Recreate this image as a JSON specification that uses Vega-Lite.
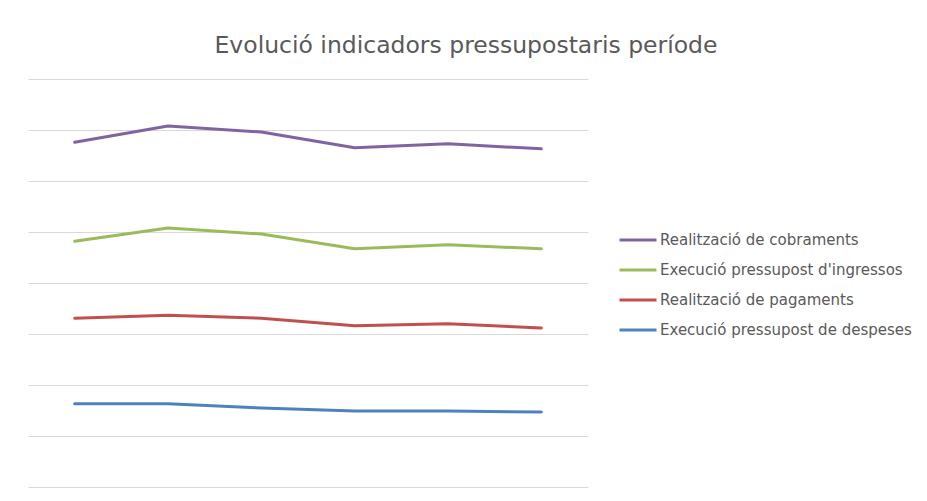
{
  "$schema": "https://vega.github.io/schema/vega-lite/v6.json",
  "autosize": "none",
  "width": 560,
  "height": 408,
  "padding": {"left": 28, "top": 79, "right": 339, "bottom": 14},
  "background": "white",
  "config": {"view": {"stroke": null}, "font": "DejaVu Sans"},
  "title": {
    "text": "Evolució indicadors pressupostaris període",
    "fontSize": 23.5,
    "fontWeight": "normal",
    "color": "#595959",
    "font": "DejaVu Sans",
    "anchor": "middle",
    "dx": 158,
    "offset": 22
  },
  "data": {
    "values": [
      {"periode": "1", "indicador": "Realització de cobraments", "valor": 6.76},
      {"periode": "2", "indicador": "Realització de cobraments", "valor": 7.08},
      {"periode": "3", "indicador": "Realització de cobraments", "valor": 6.96},
      {"periode": "4", "indicador": "Realització de cobraments", "valor": 6.65},
      {"periode": "5", "indicador": "Realització de cobraments", "valor": 6.73},
      {"periode": "6", "indicador": "Realització de cobraments", "valor": 6.63},
      {"periode": "1", "indicador": "Execució pressupost d'ingressos", "valor": 4.82},
      {"periode": "2", "indicador": "Execució pressupost d'ingressos", "valor": 5.08},
      {"periode": "3", "indicador": "Execució pressupost d'ingressos", "valor": 4.96},
      {"periode": "4", "indicador": "Execució pressupost d'ingressos", "valor": 4.67},
      {"periode": "5", "indicador": "Execució pressupost d'ingressos", "valor": 4.75},
      {"periode": "6", "indicador": "Execució pressupost d'ingressos", "valor": 4.67},
      {"periode": "1", "indicador": "Realització de pagaments", "valor": 3.31},
      {"periode": "2", "indicador": "Realització de pagaments", "valor": 3.37},
      {"periode": "3", "indicador": "Realització de pagaments", "valor": 3.31},
      {"periode": "4", "indicador": "Realització de pagaments", "valor": 3.16},
      {"periode": "5", "indicador": "Realització de pagaments", "valor": 3.20},
      {"periode": "6", "indicador": "Realització de pagaments", "valor": 3.12},
      {"periode": "1", "indicador": "Execució pressupost de despeses", "valor": 1.63},
      {"periode": "2", "indicador": "Execució pressupost de despeses", "valor": 1.63},
      {"periode": "3", "indicador": "Execució pressupost de despeses", "valor": 1.55},
      {"periode": "4", "indicador": "Execució pressupost de despeses", "valor": 1.49},
      {"periode": "5", "indicador": "Execució pressupost de despeses", "valor": 1.49},
      {"periode": "6", "indicador": "Execució pressupost de despeses", "valor": 1.47}
    ]
  },
  "mark": {"type": "line", "strokeWidth": 3, "strokeCap": "round", "strokeJoin": "round"},
  "encoding": {
    "x": {
      "field": "periode",
      "type": "ordinal",
      "scale": {"type": "point", "padding": 0.5},
      "axis": null
    },
    "y": {
      "field": "valor",
      "type": "quantitative",
      "scale": {"domain": [0, 8], "nice": false, "zero": true},
      "axis": {
        "values": [0, 1, 2, 3, 4, 5, 6, 7, 8],
        "labels": false,
        "ticks": false,
        "domain": false,
        "title": null,
        "grid": true,
        "gridColor": "#D9D9D9",
        "gridWidth": 1
      }
    },
    "color": {
      "field": "indicador",
      "type": "nominal",
      "sort": ["Realització de cobraments", "Execució pressupost d'ingressos", "Realització de pagaments", "Execució pressupost de despeses"],
      "scale": {
        "domain": ["Realització de cobraments", "Execució pressupost d'ingressos", "Realització de pagaments", "Execució pressupost de despeses"],
        "range": ["#8064A2", "#9BBB59", "#C0504D", "#4F81BD"]
      },
      "legend": {
        "orient": "none",
        "legendX": 590,
        "legendY": 141,
        "title": null,
        "symbolType": "stroke",
        "symbolSize": 1369,
        "symbolStrokeWidth": 3,
        "labelFontSize": 15,
        "labelColor": "#595959",
        "labelFont": "DejaVu Sans",
        "labelOffset": 2,
        "labelLimit": 400,
        "rowPadding": 2
      }
    }
  }
}
